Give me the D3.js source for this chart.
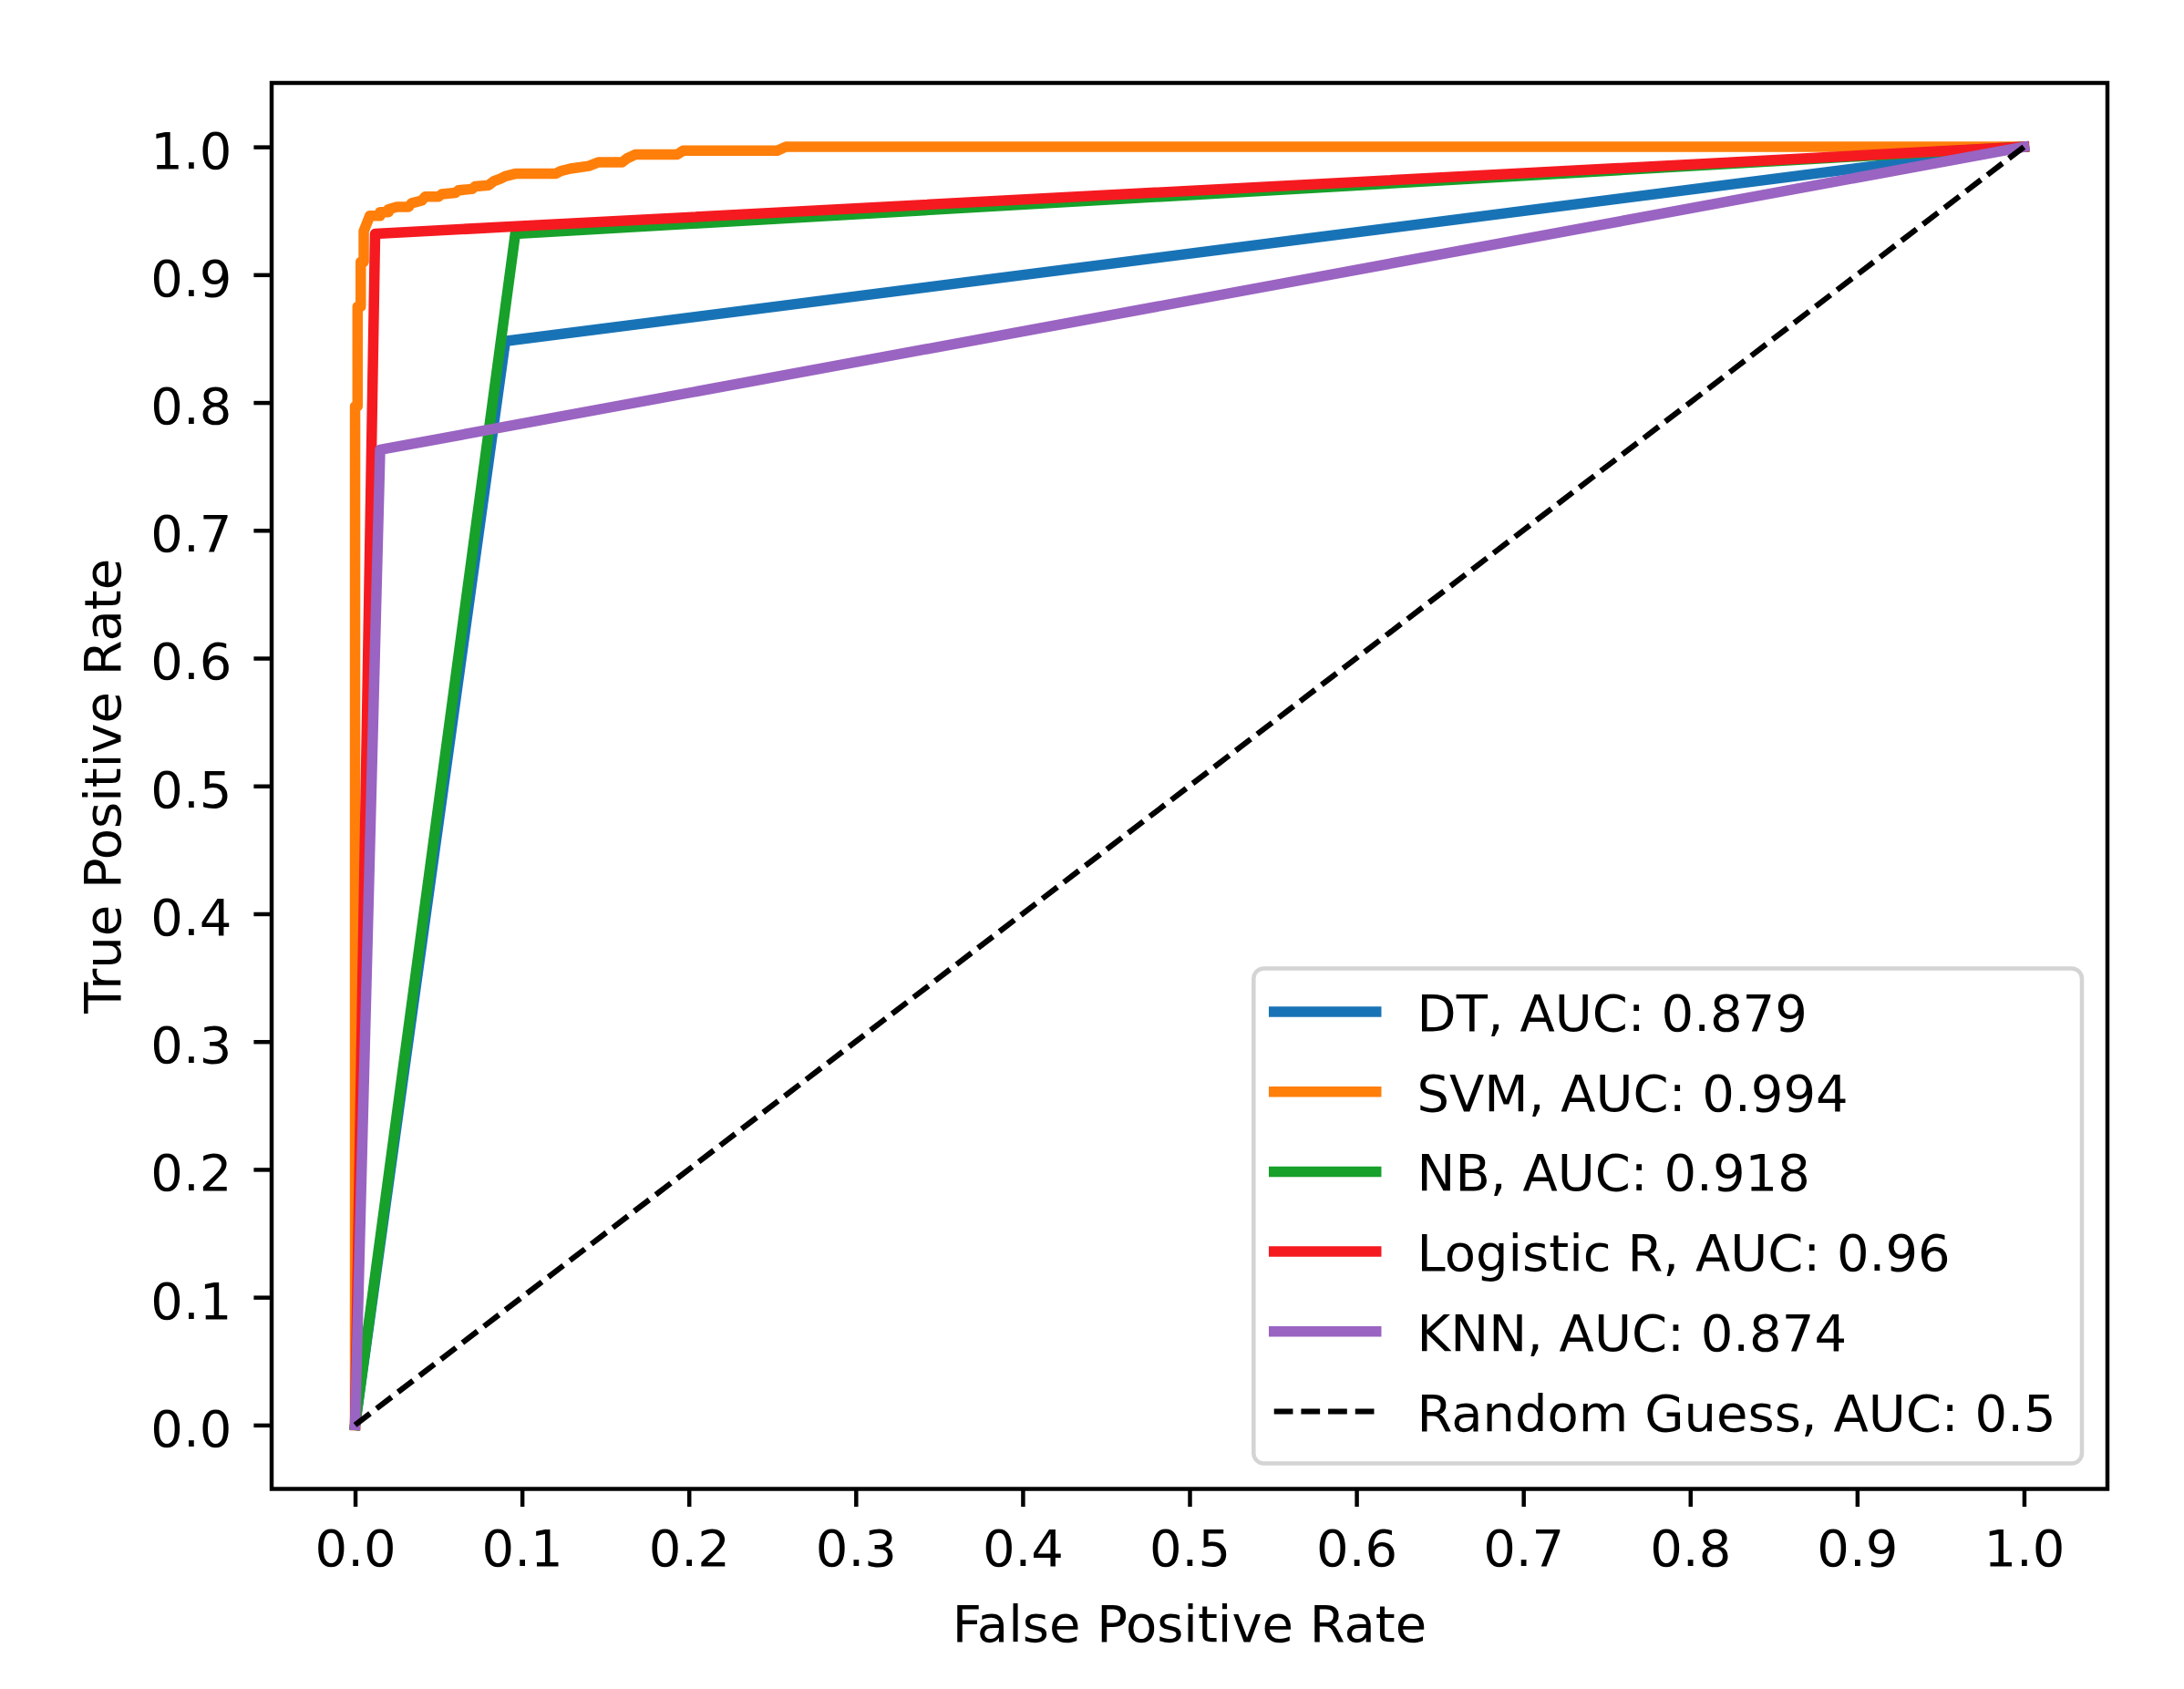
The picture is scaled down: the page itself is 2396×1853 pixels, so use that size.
<!DOCTYPE html>
<html>
<head>
<meta charset="utf-8">
<script src="https://cdn.jsdelivr.net/npm/d3@7"></script>
<style>
  html, body { margin: 0; padding: 0; background: #fff; }
  svg text { font-family: "DejaVu Sans", sans-serif; fill: #000; }
</style>
</head>
<body>
<svg id="chart" width="2396" height="1853"></svg>
<script>
// ---- data ----
var modelNames = ["DT", "SVM", "NB", "Logistic R", "KNN"];
var aucValues = [0.879, 0.994, 0.918, 0.96, 0.874];
var lineColors = ["#1873b6", "#ff7f0a", "#17a02a", "#f51a20", "#9a64c2"];

var dtFpr = [0, 0.090, 1];
var dtTpr = [0, 0.848, 1];

var svmFpr = [0, 0, 0.0015, 0.0015, 0.0034, 0.0034, 0.0052, 0.0052, 0.0088, 0.0150, 0.0150, 0.0200,
  0.0200, 0.0250, 0.0320, 0.0340, 0.0400, 0.0420, 0.0500, 0.0520, 0.0600, 0.0620, 0.0700, 0.0720,
  0.0800, 0.0830, 0.0870, 0.0900, 0.0960, 0.1200, 0.1230, 0.1290, 0.1400, 0.1460, 0.1600, 0.1630,
  0.1680, 0.1930, 0.1965, 0.2530, 0.2580, 1];
var svmTpr = [0, 0.797, 0.797, 0.875, 0.875, 0.910, 0.910, 0.934, 0.946, 0.946, 0.949, 0.949,
  0.951, 0.953, 0.953, 0.956, 0.958, 0.961, 0.961, 0.963, 0.964, 0.966, 0.967, 0.969,
  0.970, 0.973, 0.975, 0.977, 0.979, 0.979, 0.981, 0.983, 0.985, 0.988, 0.988, 0.991,
  0.994, 0.994, 0.997, 0.997, 1.0, 1];

var nbFpr = [0, 0.096, 1];
var nbTpr = [0, 0.932, 1];

var lrFpr = [0, 0.012, 1];
var lrTpr = [0, 0.932, 1];

var knnFpr = [0, 0.015, 1];
var knnTpr = [0, 0.763, 1];

var guessFpr = [0, 1];
var guessTpr = [0, 1];
var guessLabel = "Random Guess, AUC: 0.5";

var tickValues = [0, 0.1, 0.2, 0.3, 0.4, 0.5, 0.6, 0.7, 0.8, 0.9, 1.0];
var xTitle = "False Positive Rate";
var yTitle = "True Positive Rate";

// ---- layout ----
var fs = 56;          // font size (10pt at this dpi)
var pt = 5.6;         // pixels per point
var lw = 11.5;        // roc line width
var frame = { left: 298, right: 2312, top: 91, bottom: 1633.5 };

var svg = d3.select("#chart");

var x = d3.scaleLinear().domain([-0.05, 1.05]).range([frame.left, frame.right]);
var y = d3.scaleLinear().domain([-0.05, 1.05]).range([frame.bottom, frame.top]);

var series = [
  { fpr: dtFpr, tpr: dtTpr },
  { fpr: svmFpr, tpr: svmTpr },
  { fpr: nbFpr, tpr: nbTpr },
  { fpr: lrFpr, tpr: lrTpr },
  { fpr: knnFpr, tpr: knnTpr }
];

var line = d3.line()
  .x(function(d) { return x(d[0]); })
  .y(function(d) { return y(d[1]); });

var plot = svg.append("g").attr("class", "lines");

series.forEach(function(s, i) {
  var pts = s.fpr.map(function(v, j) { return [v, s.tpr[j]]; });
  plot.append("path")
    .datum(pts)
    .attr("d", line)
    .attr("fill", "none")
    .attr("stroke", lineColors[i])
    .attr("stroke-width", lw)
    .attr("stroke-linejoin", "round")
    .attr("stroke-linecap", "square");
});

plot.append("path")
  .datum(guessFpr.map(function(v, j) { return [v, guessTpr[j]]; }))
  .attr("d", line)
  .attr("fill", "none")
  .attr("stroke", "#000")
  .attr("stroke-width", 1.1 * pt)
  .attr("stroke-dasharray", (3.7 * pt) + " " + (1.6 * pt));

// ---- axes ----
var xAxis = d3.axisBottom(x)
  .tickValues(tickValues)
  .tickFormat(d3.format(".1f"))
  .tickSize(3.5 * pt)
  .tickPadding(25);

var yAxis = d3.axisLeft(y)
  .tickValues(tickValues)
  .tickFormat(d3.format(".1f"))
  .tickSize(3.5 * pt)
  .tickPadding(24);

var gx = svg.append("g")
  .attr("transform", "translate(0," + frame.bottom + ")")
  .call(xAxis);
var gy = svg.append("g")
  .attr("transform", "translate(" + frame.left + ",0)")
  .call(yAxis);

[gx, gy].forEach(function(g) {
  g.select(".domain").remove();
  g.selectAll(".tick line").attr("stroke", "#000").attr("stroke-width", 0.8 * pt);
  g.selectAll(".tick text")
    .attr("font-size", fs)
    .attr("font-family", "DejaVu Sans")
    .attr("fill", "#000");
});
gy.selectAll(".tick text").attr("dy", "0.41em");

// spines
svg.append("rect")
  .attr("x", frame.left)
  .attr("y", frame.top)
  .attr("width", frame.right - frame.left)
  .attr("height", frame.bottom - frame.top)
  .attr("fill", "none")
  .attr("stroke", "#000")
  .attr("stroke-width", 0.8 * pt);

// axis titles
svg.append("text")
  .attr("x", (frame.left + frame.right) / 2)
  .attr("y", 1801)
  .attr("text-anchor", "middle")
  .attr("font-size", fs)
  .text(xTitle);

svg.append("text")
  .attr("transform", "translate(132," + ((frame.top + frame.bottom) / 2) + ") rotate(-90)")
  .attr("text-anchor", "middle")
  .attr("font-size", fs)
  .text(yTitle);

// ---- legend ----
var legendLabels = modelNames.map(function(n, i) { return n + ", AUC: " + aucValues[i]; });
legendLabels.push(guessLabel);

var pad = 0.4 * fs, handleLen = 2 * fs, handleGap = 0.8 * fs, rowPitch = 87.7;
var legRight = frame.right - 0.5 * fs, legBottom = frame.bottom - 0.5 * fs;
var legTop = 1062.5;

var leg = svg.append("g").attr("class", "legend");
var box = leg.append("rect");

var texts = leg.selectAll("text.lab")
  .data(legendLabels)
  .join("text")
  .attr("class", "lab")
  .attr("font-size", fs)
  .text(function(d) { return d; });

var maxW = 0;
texts.each(function() { maxW = Math.max(maxW, this.getComputedTextLength()); });
var legLeft = legRight - (pad + handleLen + handleGap + maxW + pad) - 6;

box.attr("x", legLeft)
  .attr("y", legTop)
  .attr("width", legRight - legLeft)
  .attr("height", legBottom - legTop)
  .attr("rx", 0.2 * fs)
  .attr("fill", "#fff")
  .attr("fill-opacity", 0.8)
  .attr("stroke", "#d4d4d4")
  .attr("stroke-width", 4.5);

var rowY = function(i) { return 1110 + i * rowPitch; };

texts.attr("x", legLeft + pad + handleLen + handleGap)
  .attr("y", function(d, i) { return rowY(i) + 21; });

legendLabels.forEach(function(d, i) {
  var h = leg.append("line")
    .attr("x1", legLeft + pad)
    .attr("x2", legLeft + pad + handleLen)
    .attr("y1", rowY(i))
    .attr("y2", rowY(i));
  if (i < lineColors.length) {
    h.attr("stroke", lineColors[i]).attr("stroke-width", lw).attr("stroke-linecap", "square");
  } else {
    h.attr("stroke", "#000").attr("stroke-width", 1.1 * pt)
      .attr("stroke-dasharray", (3.7 * pt) + " " + (1.6 * pt));
  }
});
</script>
</body>
</html>
